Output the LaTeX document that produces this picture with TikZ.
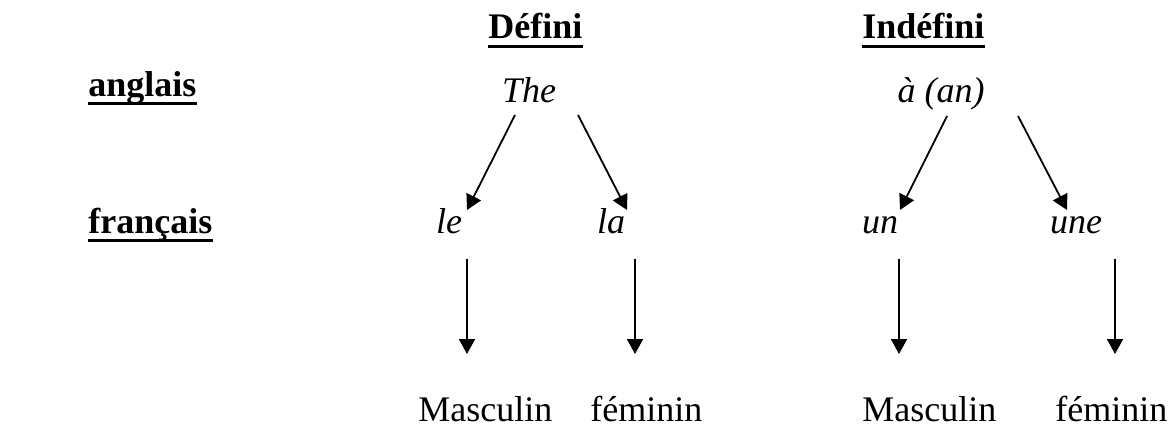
\documentclass[tikz,border=0pt]{standalone}
\usepackage{fontspec}
\setmainfont{Liberation Serif}
\usepackage{tikz}
\usetikzlibrary{arrows.meta}

\begin{document}
\begin{tikzpicture}[
    x=0.5pt, y=-0.5pt,
    every node/.style={inner sep=0pt, font=\fontsize{18}{22}\selectfont},
    heading/.style={
        % bold, underlined afterwards
        font=\fontsize{18}{22}\selectfont\bfseries
    },
    word/.style={
        font=\fontsize{18}{22}\selectfont\itshape
    },
    gender/.style={
        font=\fontsize{18}{22}\selectfont
    },
    uline/.style={line width=1.75pt},
    arr/.style={line width=0.9pt, -{Triangle[length=7.5pt,width=8pt]}}
    ]
    \useasboundingbox (0,0) rectangle (1172,428);

    % row and column headings
    \node [heading, anchor=base west] (anglais)  at (88,96)  {anglais};
    \node [heading, anchor=base west] (francais) at (88,233) {français};
    \node [heading, anchor=base west] (defini)   at (488,39) {Défini};
    \node [heading, anchor=base west] (indefini) at (862,39) {Indéfini};

    \foreach \n in {anglais, francais, defini, indefini}
        \draw [uline] ([yshift=-3.75pt]\n.base west) -- ([yshift=-3.75pt]\n.base east);

    % the articles
    \node [word, anchor=base] (the) at (529,102)  {The};
    \node [word, anchor=base] (aan) at (941,102)  {à (an)};
    \node [word, anchor=base] (le)  at (449,233)  {le};
    \node [word, anchor=base] (la)  at (611,233)  {la};
    \node [word, anchor=base] (un)  at (880,233)  {un};
    \node [word, anchor=base] (une) at (1076,233) {une};

    % genders
    \node [gender, anchor=base west] (mascA) at (418,421)  {Masculin};
    \node [gender, anchor=base west] (femA)  at (590,421)  {féminin};
    \node [gender, anchor=base west] (mascB) at (862,421)  {Masculin};
    \node [gender, anchor=base west] (femB)  at (1055,421) {féminin};

    % english -> french
    \draw [arr] ([xshift=-7pt,yshift=-6.5pt]the.base)    -- ([xshift=9pt,yshift=11.5pt]le.base);
    \draw [arr] ([xshift=24.5pt,yshift=-6.5pt]the.base)  -- ([xshift=8pt,yshift=11.5pt]la.base);
    \draw [arr] ([xshift=3pt,yshift=-7pt]aan.base)       -- ([xshift=10pt,yshift=11.5pt]un.base);
    \draw [arr] ([xshift=38.5pt,yshift=-7pt]aan.base)    -- ([xshift=-4.5pt,yshift=11.5pt]une.base);

    % french -> gender
    \draw [arr] ([xshift=9pt,yshift=-13pt]le.base)     -- ([xshift=24.5pt,yshift=33.5pt]mascA.base west);
    \draw [arr] ([xshift=12pt,yshift=-13pt]la.base)    -- ([xshift=22.5pt,yshift=33.5pt]femA.base west);
    \draw [arr] ([xshift=9.5pt,yshift=-13pt]un.base)   -- ([xshift=18.5pt,yshift=33.5pt]mascB.base west);
    \draw [arr] ([xshift=19.5pt,yshift=-13pt]une.base) -- ([xshift=30pt,yshift=33.5pt]femB.base west);
\end{tikzpicture}
\end{document}
